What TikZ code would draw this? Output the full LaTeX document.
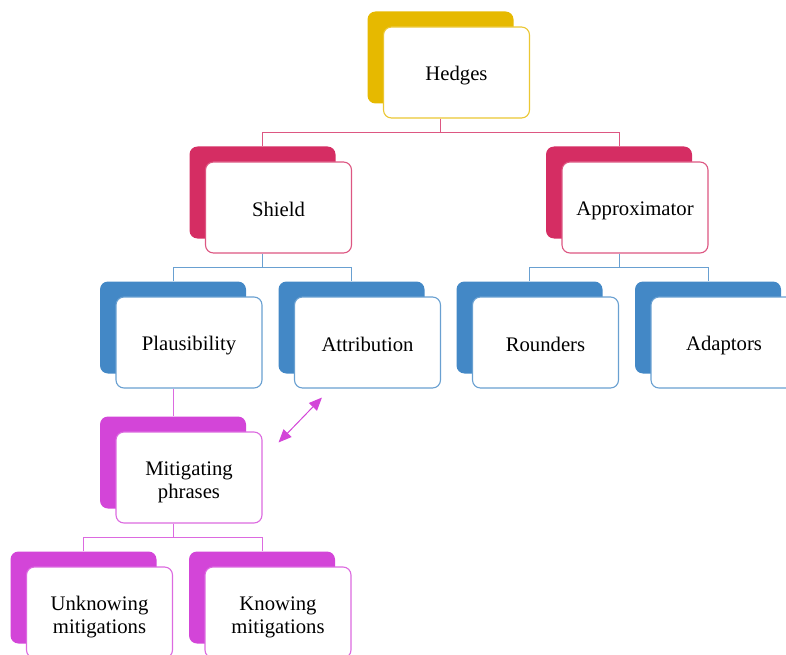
\documentclass[tikz,border=0pt]{standalone}
\usepackage{fontspec}
\setmainfont{Liberation Serif}
\usetikzlibrary{arrows.meta}

\definecolor{hedgegold}{RGB}{230,185,0}
\definecolor{shieldred}{RGB}{213,45,99}
\definecolor{plausblue}{RGB}{67,136,198}
\definecolor{mitigpink}{RGB}{211,69,216}

\newcommand{\boxstrut}{\rule[-3pt]{0pt}{24pt}}
\newcommand{\twolines}[2]{\rule{0pt}{24pt}#1\\#2\rule[-4pt]{0pt}{4pt}}

\tikzset{
  backbox/.style={fill=#1, rounded corners=8pt, minimum width=146pt, minimum height=92pt, inner sep=0pt},
  frontbox/.style={draw=#1!80!white, fill=white, line width=1.1pt, rounded corners=8pt,
    minimum width=146pt, minimum height=91pt, inner sep=0pt, align=center,
    font=\fontsize{20.7}{23}\selectfont},
  branch/.style={draw=#1!80!white, line width=0.9pt},
}

\begin{document}
\begin{tikzpicture}[x=1pt, y=-1pt]
    \useasboundingbox (0,0) rectangle (786,655);
    \clip (0,0) rectangle (786,655);

    % Caselle (retro colorato + fronte bianco)
    \foreach \name/\x/\y/\col/\txt in {
        hedges/456.5/72.5/hedgegold/\boxstrut Hedges,
        shield/278.5/207.5/shieldred/\boxstrut Shield,
        approx/635/207.5/shieldred/\boxstrut Approximator,
        plaus/189/342.5/plausblue/\boxstrut Plausibility,
        attr/367.5/342.5/plausblue/\boxstrut Attribution,
        round/545.5/342.5/plausblue/\boxstrut Rounders,
        adapt/724/342.5/plausblue/\boxstrut Adaptors,
        mit/189/477.5/mitigpink/{\twolines{Mitigating}{phrases}},
        unk/99.5/612.5/mitigpink/{\twolines{Unknowing}{mitigations}},
        know/278/612.5/mitigpink/{\twolines{Knowing}{mitigations}}}{
        \node[backbox=\col] (\name-bk) at (\x-16,\y-15) {};
        \node[frontbox=\col] (\name) at (\x,\y) {\txt};
    }

    % Rami
    \draw[branch=shieldred] (hedges-bk.south |- hedges.south) -- ++(0,14) -| (shield-bk.north);
    \draw[branch=shieldred] (hedges-bk.south |- hedges.south) -- ++(0,14) -| (approx-bk.north);
    \draw[branch=plausblue] (shield-bk.south |- shield.south) -- ++(0,14) -| (plaus-bk.north);
    \draw[branch=plausblue] (shield-bk.south |- shield.south) -- ++(0,14) -| (attr-bk.north);
    \draw[branch=plausblue] (approx-bk.south |- approx.south) -- ++(0,14) -| (round-bk.north);
    \draw[branch=plausblue] (approx-bk.south |- approx.south) -- ++(0,14) -| (adapt-bk.north);
    \draw[branch=mitigpink] (plaus-bk.south |- plaus.south) -- (mit-bk.north);
    \draw[branch=mitigpink] (mit-bk.south |- mit.south) -- ++(0,14) -| (unk-bk.north);
    \draw[branch=mitigpink] (mit-bk.south |- mit.south) -- ++(0,14) -| (know-bk.north);

    % Freccia doppia Mitigating <-> Attribution
    \coordinate (arrmit) at ([shift={(16,11)}]mit.north east);
    \coordinate (arrattr) at ([shift={(28,9)}]attr.south west);
    \draw[mitigpink, line width=1pt, {Triangle[length=13pt,width=11pt]}-{Triangle[length=13pt,width=11pt]}] (arrmit) -- (arrattr);
\end{tikzpicture}
\end{document}
